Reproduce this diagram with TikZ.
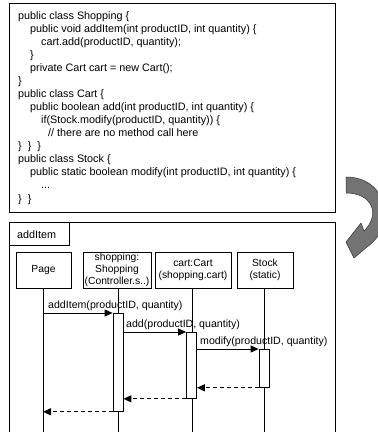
\documentclass[tikz,border=0pt]{standalone}
\usepackage{fontspec}
\setmainfont{Liberation Sans}
\usetikzlibrary{arrows.meta}

\tikzset{
    obj/.style={draw, line width=0.8bp, align=center, inner sep=0pt,
        minimum height=36bp, font=\fontsize{10.3bp}{12bp}\selectfont},
    act/.style={draw, line width=0.8bp, fill=white, minimum width=10bp, inner sep=0pt},
    call/.style={line width=0.8bp, -{Triangle[length=8bp,width=7bp]}},
    ret/.style={line width=1.2bp, dash pattern=on 4bp off 3bp,
        -{Triangle[length=8bp,width=7bp]}},
    msg/.style={anchor=base west, inner sep=0pt, font=\fontsize{10.6bp}{12bp}\selectfont}
}

\begin{document}
\begin{tikzpicture}[x=1bp, y=-1bp]

    \useasboundingbox (0, 0) rectangle (378, 432);
    \clip (0, 0) rectangle (378, 432);

    % source code
    \draw[line width=0.9bp] (9, 3) rectangle (335, 212);
    \node[anchor=north west, align=left, inner sep=0pt,
        font=\fontsize{10.8bp}{13.07bp}\selectfont] (code) at (18, 11) {%
        public class Shopping \{\\
        \hspace*{12bp}public void addItem(int productID, int quantity) \{\\
        \hspace*{23bp}cart.add(productID, quantity);\\
        \hspace*{12bp}\}\\
        \hspace*{12bp}private Cart cart = new Cart();\\
        \}\\
        public class Cart \{\\
        \hspace*{12bp}public boolean add(int productID, int quantity) \{\\
        \hspace*{23bp}if(Stock.modify(productID, quantity)) \{\\
        \hspace*{30bp}// there are no method call here\\
        \} \ \} \ \}\\
        public class Stock \{\\
        \hspace*{12bp}public static boolean modify(int productID, int quantity) \{\\
        \hspace*{23bp}...\\
        \} \ \}};

    % turn arrow
    \fill[black!55, draw=black!80, line width=0.5bp]
        (346, 177) .. controls (388, 177) and (397, 226) .. (367, 247)
        -- (354, 258) -- (346, 242) -- (361, 223) -- (364, 231)
        .. controls (381, 214) and (372, 193) .. (346, 193) -- cycle;

    % sequence diagram frame
    \draw[line width=0.9bp] (9, 432) -- (9, 222) -- (335, 222) -- (335, 432);
    \draw[line width=0.9bp] (9, 245) -- (69, 245) -- (69, 222);
    \node[anchor=base west, inner sep=0pt, font=\fontsize{10.8bp}{12bp}\selectfont]
        (frame) at (17, 238) {addItem};

    \coordinate (bot) at (0, 432);

    \node[obj, minimum width=55bp] (page) at (43.5, 270) {Page};
    \node[obj, minimum width=68bp] (shop) at (117, 270) {shopping:\\Shopping\\(Controller.s..)};
    \node[obj, minimum width=76bp] (cart) at (193, 270) {cart:Cart\\(shopping.cart)};
    \node[obj, minimum width=56bp] (stock) at (265, 270) {Stock\\(static)};

    \draw[line width=0.8bp] (43, 288) -- (43, 432);
    \draw[line width=0.8bp] (118, 288) -- (118, 432);
    \draw[line width=0.8bp] (192, 288) -- (192, 432);
    \draw[line width=0.8bp] (264, 288) -- (264, 432);

    \node[act, minimum height=98bp, anchor=north] (aShop) at (118, 313) {};
    \node[act, minimum height=66bp, anchor=north] (aCart) at (191.5, 332) {};
    \node[act, minimum height=38bp, anchor=north] (aStock) at (264, 349) {};

    \coordinate (pageLine) at (43, 0);

    \draw[call] (pageLine |- aShop.north west) -- (aShop.north west);
    \draw[call] (aShop.north east |- aCart.north west) -- (aCart.north west);
    \draw[call] (aCart.north east |- aStock.north west) -- (aStock.north west);

    \draw[ret] (aStock.south west) -- (aCart.east |- aStock.south west);
    \draw[ret] (aCart.south west) -- (aShop.east |- aCart.south west);
    \draw[ret] (aShop.south west) -- (pageLine |- aShop.south west);

    \node[msg] (mAddItem) at (48, 308) {addItem(productID, quantity)};
    \node[msg] (mAdd) at (126, 327) {add(productID, quantity)};
    \node[msg] (mModify) at (200, 344) {modify(productID, quantity)};

\end{tikzpicture}
\end{document}
